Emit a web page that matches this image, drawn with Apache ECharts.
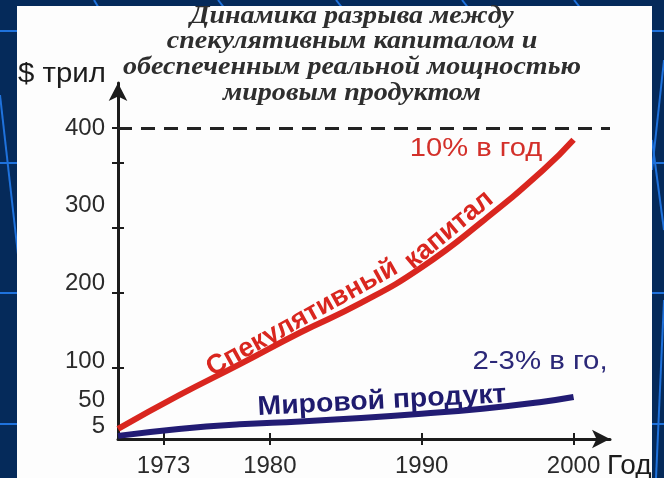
<!DOCTYPE html>
<html>
<head>
<meta charset="utf-8">
<script src="https://cdn.jsdelivr.net/npm/echarts@6/dist/echarts.min.js"></script>
<style>
html, body { margin: 0; padding: 0; background: #052a5a; }
#chart { width: 664px; height: 478px; }
</style>
</head>
<body>
<div id="chart"></div>
<script>
// values ($ trillions)
const years = [1970, 1974, 1978, 1982, 1986, 1990, 1994, 1998, 2000]
const speculative = [13, 56, 96, 137, 175, 221, 280, 346, 385]
const worldProduct = [4, 13, 19, 22.5, 27, 32.5, 39, 48, 54]
const yearTicks = [1973, 1980, 1990, 2000]
const valueLabels = [5, 50, 100, 200, 300, 400]
const valueTicks = [92, 188, 272, 355, 400]
const ceiling = 400
const titleLines = [
  'Динамика разрыва между',
  'спекулятивным капиталом и',
  'обеспеченным реальной мощностью',
  'мировым продуктом'
]

const sans = '"Liberation Sans", Arial, sans-serif'
const serif = '"Liberation Serif", "Times New Roman", serif'
const ink = '#1c1c1c'
const red = '#d9261f'
const navy = '#221c74'
const xMin = 1970
const xMax = 2002.4
const yMax = 458

const chart = echarts.init(document.getElementById('chart'))

const bgLine = (x1, y1, x2, y2) => ({
  type: 'line', z: -10, silent: true,
  shape: { x1, y1, x2, y2 },
  style: { stroke: '#1f72dc', lineWidth: 2 }
})

// second axis on the same side, only to draw the inner half of the ticks
const tickAxis = (values, extra) => Object.assign({
  type: 'value',
  axisLine: { show: false },
  axisTick: { show: true, inside: true, customValues: values, length: 6, lineStyle: { color: ink, width: 2 } },
  axisLabel: { show: false },
  splitLine: { show: false }
}, extra)

const labelFont = { fontSize: 24, color: '#2a2a2a', fontFamily: sans }

chart.setOption({
  backgroundColor: '#052a5a',
  animation: false,
  grid: { left: 118, right: 54, top: 83, bottom: 38 },
  xAxis: [{
    type: 'value',
    position: 'bottom',
    min: xMin,
    max: xMax,
    axisLine: {
      show: true,
      lineStyle: { color: ink, width: 3 },
      symbol: ['none', 'arrow'],
      symbolSize: [14, 18]
    },
    axisTick: { show: true, customValues: yearTicks, length: 6, lineStyle: { color: ink, width: 2 } },
    axisLabel: Object.assign({ customValues: yearTicks, margin: 15, formatter: v => String(v) }, labelFont),
    splitLine: { show: false }
  }, tickAxis(yearTicks, { position: 'bottom', min: xMin, max: xMax })],
  yAxis: [{
    type: 'value',
    position: 'left',
    min: 0,
    max: yMax,
    axisLine: {
      show: true,
      lineStyle: { color: ink, width: 3 },
      symbol: ['none', 'arrow'],
      symbolSize: [14, 18]
    },
    axisTick: { show: true, customValues: valueTicks, length: 6, lineStyle: { color: ink, width: 2 } },
    axisLabel: Object.assign({
      customValues: valueLabels,
      margin: 13,
      formatter: v => (v === 5 ? '{low|5}' : String(v)),
      rich: { low: Object.assign({ padding: [0, 0, 18, 0] }, labelFont) }
    }, labelFont),
    splitLine: { show: false }
  }, tickAxis(valueTicks, { position: 'left', min: 0, max: yMax })],
  series: [{
    name: 'Мировой продукт',
    type: 'line',
    data: years.map((y, i) => [y, worldProduct[i]]),
    smooth: true,
    symbol: 'none',
    lineStyle: { color: navy, width: 6 }
  }, {
    name: 'Спекулятивный капитал',
    type: 'line',
    data: years.map((y, i) => [y, speculative[i]]),
    smooth: true,
    symbol: 'none',
    lineStyle: { color: red, width: 6 },
    markLine: {
      silent: true,
      symbol: 'none',
      label: { show: false },
      lineStyle: { type: [14, 9], color: '#222', width: 3 },
      data: [{ yAxis: ceiling }]
    }
  }],
  graphic: [
    // slide background decoration
    bgLine(0, 31, 664, 31),
    bgLine(0, 163, 664, 163),
    bgLine(0, 293, 664, 293),
    bgLine(0, 424, 664, 424),
    bgLine(0, 95, 22, 290),
    bgLine(94, 0, 100, 10),
    bgLine(218, 0, 226, 10),
    bgLine(336, 0, 344, 10),
    bgLine(462, 0, 470, 10),
    bgLine(574, 0, 582, 10),
    bgLine(664, 60, 652, 170),
    bgLine(652, 140, 664, 230),
    bgLine(664, 300, 656, 478),
    { type: 'rect', z: -5, silent: true, shape: { x: 17, y: 6, width: 635, height: 472 }, style: { fill: '#fdfdfd' } },
    // title
    ...titleLines.map((t, i) => ({
      type: 'text', x: 352, y: 16 + i * 25.7, z: 5, scaleX: 1.08,
      style: { text: t, align: 'center', verticalAlign: 'middle', font: 'italic bold 26px ' + serif, fill: '#2e2e2e' }
    })),
    { type: 'text', x: 18, y: 74, scaleX: 1.05, style: { text: '$ трил', verticalAlign: 'middle', font: '28px ' + sans, fill: ink } },
    { type: 'text', x: 607, y: 466, style: { text: 'Год', verticalAlign: 'middle', font: '28px ' + sans, fill: ink } },
    { type: 'text', x: 476, y: 149, scaleX: 1.12, style: { text: '10% в год', align: 'center', verticalAlign: 'middle', font: '26px ' + sans, fill: '#d3302a' } },
    { type: 'text', x: 540, y: 362, scaleX: 1.13, style: { text: '2-3% в го,', align: 'center', verticalAlign: 'middle', font: '26px ' + sans, fill: '#2b2878' } },
    { type: 'text', x: 302, y: 318, rotation: 29 * Math.PI / 180, style: { text: 'Спекулятивный', align: 'center', verticalAlign: 'middle', font: 'bold 27px ' + sans, fill: red } },
    { type: 'text', x: 449, y: 230, rotation: 40 * Math.PI / 180, style: { text: 'капитал', align: 'center', verticalAlign: 'middle', font: 'bold 27px ' + sans, fill: red } },
    { type: 'text', x: 382, y: 401, rotation: 3 * Math.PI / 180, scaleX: 1.05, style: { text: 'Мировой продукт', align: 'center', verticalAlign: 'middle', font: 'bold 27px ' + sans, fill: '#1f1b6e' } }
  ]
})

window.onresize = function () {
  chart.resize()
}
</script>
</body>
</html>
